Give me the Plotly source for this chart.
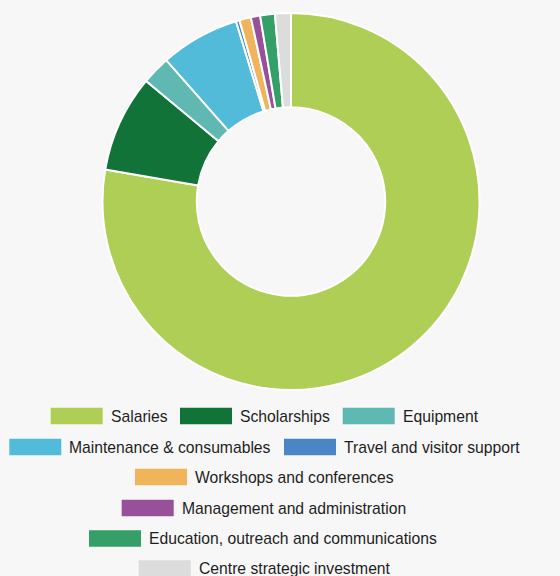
import plotly.graph_objects as go

# ---- data ----
categories = [
    "Salaries",
    "Scholarships",
    "Equipment",
    "Maintenance & consumables",
    "Travel and visitor support",
    "Workshops and conferences",
    "Management and administration",
    "Education, outreach and communications",
    "Centre strategic investment",
]
values = [77.7, 8.33, 2.44, 6.8, 0.3, 0.99, 0.8, 1.26, 1.36]
colors = ["#AFCE56", "#117338", "#5FB9B2", "#52BBDA", "#4A86C6",
          "#F0B45A", "#98509B", "#349F66", "#DCDCDC"]

# ---- layout constants (pixels) ----
W, H = 560, 576
cx, cy, r = 291, 201.5, 188.5
# custom legend: (swatch left x, row centre y) per category
legend_pos = [(50.7, 416), (180, 416), (342.7, 416),
              (9.3, 447), (284, 447),
              (135, 477), (121.7, 508), (89, 538.5), (138.7, 568.5)]
sw_w, sw_h = 52, 16.5

fig = go.Figure(go.Pie(
    labels=categories, values=values, sort=False, direction="clockwise",
    rotation=0, hole=0.5, textinfo="none",
    marker=dict(colors=colors, line=dict(color="white", width=2)),
    domain=dict(x=[(cx - r) / W, (cx + r) / W],
                y=[1 - (cy + r) / H, 1 - (cy - r) / H]),
    showlegend=False,
))

shapes, annots = [], []
for name, col, (lx, ly) in zip(categories, colors, legend_pos):
    shapes.append(dict(type="rect", xref="paper", yref="paper",
                       x0=lx / W, x1=(lx + sw_w) / W,
                       y0=1 - (ly + sw_h / 2) / H, y1=1 - (ly - sw_h / 2) / H,
                       fillcolor=col, line=dict(width=0)))
    annots.append(dict(xref="paper", yref="paper", x=(lx + sw_w + 7) / W,
                       y=1 - ly / H, xanchor="left", yanchor="middle",
                       text=name, showarrow=False, borderpad=0,
                       font=dict(family="Liberation Sans, Arial, sans-serif",
                                 size=15.7, color="#1E1E1E")))

fig.update_layout(width=W, height=H, margin=dict(l=0, r=0, t=0, b=0),
                  paper_bgcolor="#F7F7F7", plot_bgcolor="#F7F7F7",
                  shapes=shapes, annotations=annots)
fig.write_html("out.html", config={"displayModeBar": False},
               post_script="document.body.style.margin='0';"
                           "document.body.style.background='#F7F7F7';")
